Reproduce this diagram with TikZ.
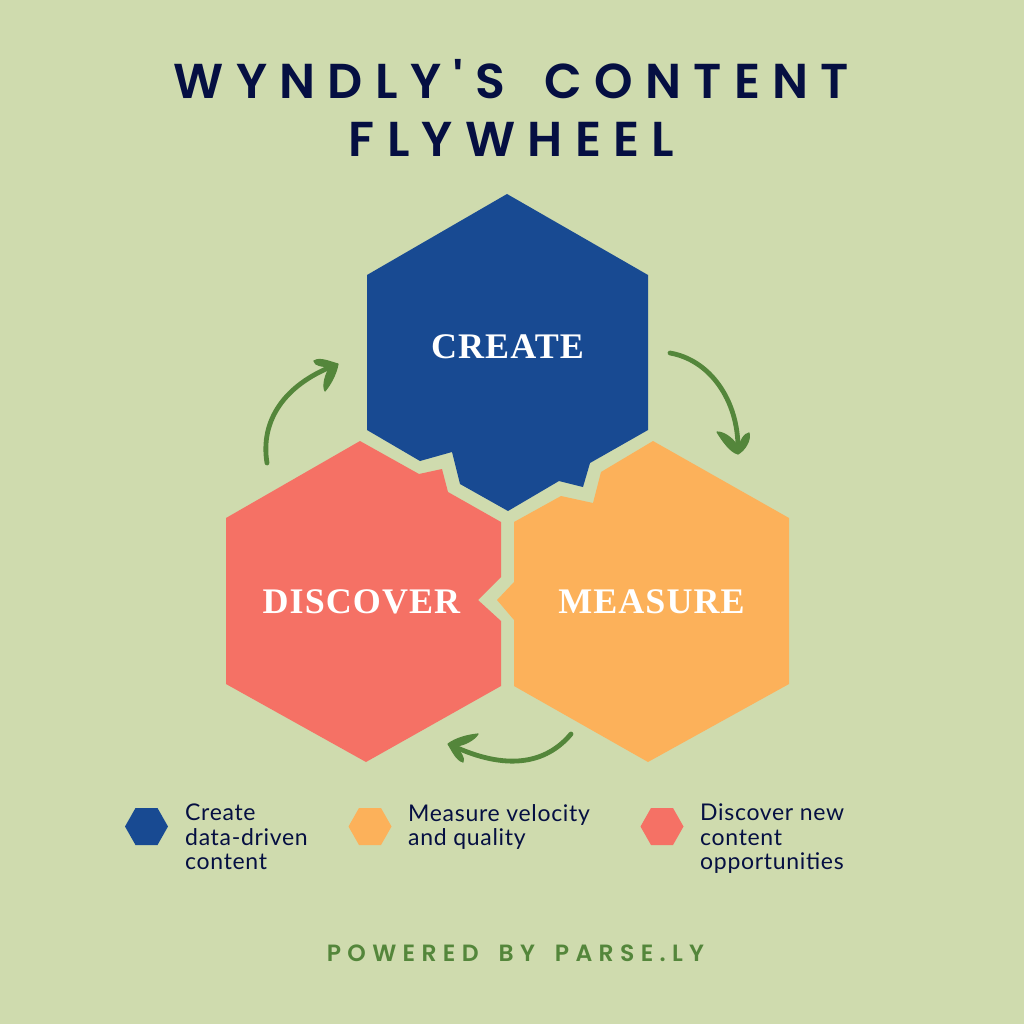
\documentclass[tikz,border=0pt]{standalone}
\usepackage{fontspec}
\setmainfont{Poppins}
\newfontfamily\titlefont[LetterSpace=25]{Poppins SemiBold}
\newfontfamily\footfont[LetterSpace=27]{Poppins SemiBold}
\newfontfamily\legendfont[LetterSpace=3]{Lato}
\newfontfamily\hexfont[LetterSpace=3]{Liberation Serif}
\definecolor{bgcol}{HTML}{CFDBAE}
\definecolor{hexblue}{HTML}{184A92}
\definecolor{hexorange}{HTML}{FCB15A}
\definecolor{hexred}{HTML}{F57165}
\definecolor{arrowgreen}{HTML}{54863B}
\definecolor{inknavy}{HTML}{050F42}
\tikzset{
  hexlabel/.style={text=white, inner sep=0, font=\hexfont\bfseries\fontsize{36}{36}\selectfont},
  titletext/.style={text=inknavy, inner sep=0, font=\titlefont\fontsize{49}{49}\selectfont},
  legendtext/.style={text=inknavy, inner sep=0, anchor=north west, align=left, font=\legendfont\fontsize{23}{24.5}\selectfont},
  flyarrow/.style={draw=arrowgreen, line width=4.8pt, line cap=round},
  flyhead/.style={fill=arrowgreen, draw=arrowgreen, line width=1.2pt, line join=round},
  legendhex/.pic={\fill (-21.5,0)--(-11,-18.5)--(11,-18.5)--(21.5,0)--(11,18.5)--(-11,18.5)--cycle;}
}
\begin{document}
\begin{tikzpicture}[x=1pt,y=-1pt]
\useasboundingbox[fill=bgcol] (0,0) rectangle (1024,1024);
% title
\node[titletext] (titleA) at (511.5,79) {WYNDLY'S\hspace{16pt} CONTENT};
\node[titletext] (titleB) at (511.5,139) {FLYWHEEL};
% hexagons
\fill[hexblue] (507,194)--(648,275)--(648,430)--(590,463)--(583,487)--(559,481)--(508,511)--(460,484)--(452,452)--(420,461)--(367,430)--(367,275)--cycle;
\fill[hexred] (360,441)--(419,474)--(442,469)--(448,492)--(501,522)--(501,577)--(478,600)--(501,621)--(501,686)--(366,762)--(226,684)--(226,518)--cycle;
\fill[hexorange] (653,441)--(789,518)--(789,684)--(648,762)--(514,686)--(514,620)--(497,600)--(514,582)--(514,522)--(561,496)--(593,503)--(601,472)--cycle;
\node[hexlabel] (create) at (507.5,347) {CREATE};
\node[hexlabel] (discover) at (361.5,602) {DISCOVER};
\node[hexlabel] (measure) at (651.5,602) {MEASURE};
% arrows
\coordinate (discoverOut) at (267,463);
\coordinate (createIn) at (333,366);
\coordinate (createOut) at (670,353);
\coordinate (measureIn) at (738,448);
\coordinate (measureOut) at (571,734);
\coordinate (discoverIn) at (453,746);
\draw[flyarrow] (discoverOut) .. controls (260,420) and (285,385) .. (createIn);
\filldraw[flyhead] (338,364) .. controls (330,362) and (320,357) .. (314,361) .. controls (315,366) and (322,366) .. (330,367) .. controls (326,373) and (322,385) .. (325,391) .. controls (330,385) and (336,375) .. (338,364) -- cycle;
\draw[flyarrow] (createOut) .. controls (710,360) and (738,400) .. (measureIn);
\filldraw[flyhead] (738,454) .. controls (745,450) and (751,440) .. (749,433) .. controls (744,434) and (741,440) .. (740,444) -- (736,444) .. controls (732,438) and (724,432) .. (717,432) .. controls (722,440) and (730,452) .. (738,454) -- cycle;
\draw[flyarrow] (measureOut) .. controls (545,765) and (505,770) .. (discoverIn);
\filldraw[flyhead] (448,744) .. controls (452,750) and (456,760) .. (463,762) .. controls (465,758) and (460,752) .. (456,746) .. controls (465,745) and (474,740) .. (478,734) .. controls (468,735) and (456,738) .. (448,744) -- cycle;
% legend
\pic[hexblue] at (146.5,826.5) {legendhex};
\pic[hexorange] at (370,826.5) {legendhex};
\pic[hexred] at (662,826.5) {legendhex};
\node[legendtext] (legendA) at (185,804) {Create\\data-driven\\content};
\node[legendtext] (legendB) at (408,804) {Measure velocity\\and quality};
\node[legendtext] (legendC) at (700,804) {Discover new\\content\\opportunities};
% footer
\node[inner sep=0, text=arrowgreen, font=\footfont\fontsize{23.5}{23.5}\selectfont] (powered) at (515.5,953) {POWERED\hspace{8pt} BY\hspace{8pt} PARSE.LY};
\end{tikzpicture}
\end{document}
